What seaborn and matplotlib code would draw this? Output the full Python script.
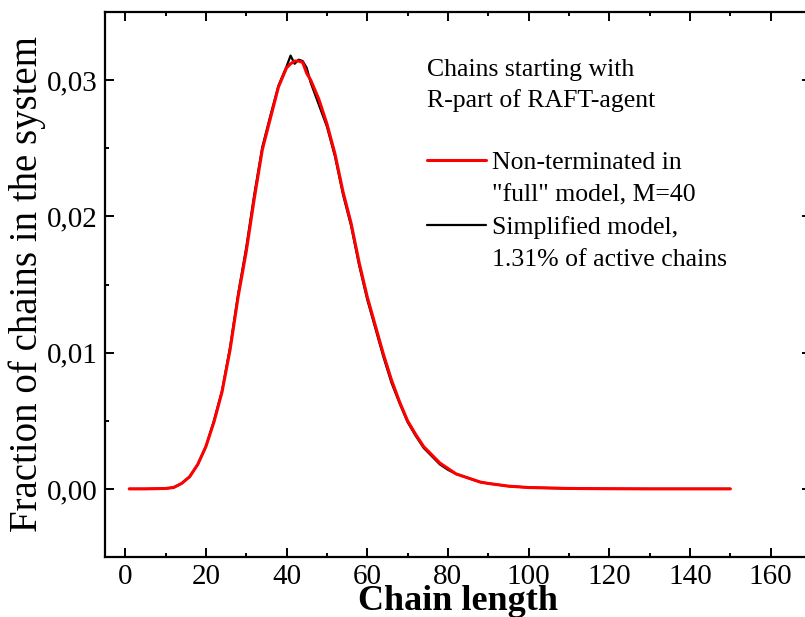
import matplotlib
matplotlib.use("Agg")
import matplotlib.pyplot as plt
from matplotlib.ticker import MultipleLocator, FuncFormatter
from matplotlib.lines import Line2D
import seaborn as sns
import pandas as pd

# ---- data ----
chain_len = [1, 5, 10, 12, 14, 16, 18, 20, 22, 24, 26, 28, 30, 32, 34, 36, 38,
             40, 41, 42, 43, 44, 45, 46, 48, 50, 52, 54, 56, 58, 60, 62, 64, 66,
             68, 70, 72, 74, 76, 78, 80, 82, 84, 86, 88, 90, 95, 100, 110, 120,
             130, 140, 150]
full_model = [0.0, 0.0, 0.00003, 0.0001, 0.0004, 0.0009, 0.0018, 0.0031, 0.0049,
              0.0071, 0.0102, 0.0141, 0.0174, 0.0213, 0.0249, 0.0272, 0.0295,
              0.0309, 0.0312, 0.0314, 0.0314, 0.0313, 0.0305, 0.0300, 0.0286,
              0.0268, 0.0246, 0.0218, 0.0195, 0.0166, 0.0141, 0.0120, 0.0099,
              0.0080, 0.0064, 0.0050, 0.0040, 0.0031, 0.0025, 0.0019, 0.0015,
              0.0011, 0.0009, 0.0007, 0.0005, 0.0004, 0.0002, 0.0001, 0.00003,
              0.00001, 0.0, 0.0, 0.0]
simplified = [0.0, 0.0, 0.00003, 0.0001, 0.0004, 0.0009, 0.0018, 0.0031, 0.0050,
              0.0072, 0.0104, 0.0143, 0.0177, 0.0216, 0.0251, 0.0274, 0.0296,
              0.0310, 0.0318, 0.0312, 0.0315, 0.0314, 0.0309, 0.0298, 0.0282,
              0.0266, 0.0244, 0.0216, 0.0193, 0.0164, 0.0139, 0.0118, 0.0097,
              0.0078, 0.0063, 0.0049, 0.0039, 0.0030, 0.0024, 0.0018, 0.0014,
              0.0011, 0.0009, 0.0007, 0.0005, 0.0004, 0.0002, 0.0001, 0.00003,
              0.00001, 0.0, 0.0, 0.0]

x_ticks = [0, 20, 40, 60, 80, 100, 120, 140, 160]
y_ticks = [0.00, 0.01, 0.02, 0.03]

label_full = ["Non-terminated in", '"full" model, M=40']
label_simpl = ["Simplified model,", "1.31% of active chains"]
header = "Chains starting with\nR-part of RAFT-agent"

df = pd.DataFrame({"len": chain_len, "full": full_model, "simpl": simplified})

sns.set_style("ticks")
plt.rcParams["font.family"] = ["Liberation Serif", "DejaVu Serif"]
plt.rcParams["text.color"] = "black"
plt.rcParams["axes.labelcolor"] = "black"
plt.rcParams["xtick.color"] = "black"
plt.rcParams["ytick.color"] = "black"

fig = plt.figure(figsize=(8.05, 6.17), dpi=100)
ax = fig.add_axes([105 / 805, 60 / 617, 706 / 805, 545 / 617])

sns.lineplot(data=df, x="len", y="simpl", ax=ax, color="black", linewidth=1.6)
sns.lineplot(data=df, x="len", y="full", ax=ax, color="#ff0000", linewidth=2.2)

ax.set_xlim(-5, 170)
ax.set_ylim(-0.005, 0.035)
ax.set_xticks(x_ticks)
ax.set_yticks(y_ticks)
ax.xaxis.set_minor_locator(MultipleLocator(10))
ax.yaxis.set_minor_locator(MultipleLocator(0.005))
ax.yaxis.set_major_formatter(FuncFormatter(lambda v, p: f"{v:.2f}".replace(".", ",")))

ax.tick_params(which="both", direction="in", top=True, right=True, width=1.4,
               labelsize=21, colors="black", labelcolor="black")
ax.tick_params(which="major", length=6.8, pad=5)
ax.tick_params(which="minor", length=3.2)
for s in ax.spines.values():
    s.set_linewidth(1.6)
    s.set_color("black")

ax.set_xlabel("Chain length", fontsize=26, fontweight="bold", color="black")
ax.xaxis.label.set_va("baseline")
ax.xaxis.set_label_coords(0.5, -0.098)
ax.set_ylabel("Fraction of chains in the system", fontsize=28, color="black")
ax.yaxis.set_label_coords(-0.0836, 0.5)

ax.text(74.9, 0.02958, header, fontsize=18.5, va="center", ha="left",
        linespacing=1.44, color="black")

handles = [Line2D([], [], color="#ff0000", linewidth=2.2),
           Line2D([], [], color="none"),
           Line2D([], [], color="black", linewidth=1.6),
           Line2D([], [], color="none")]
labels = [label_full[0], label_full[1], label_simpl[0], label_simpl[1]]
leg = ax.legend(handles, labels, loc="upper left", bbox_to_anchor=(0.456, 0.745),
                frameon=False, fontsize=18.5, handlelength=2.3, handletextpad=0.25,
                labelspacing=0.37, borderpad=0, borderaxespad=0)
for t in leg.get_texts():
    t.set_color("black")

fig.savefig("out.png", dpi=100)
